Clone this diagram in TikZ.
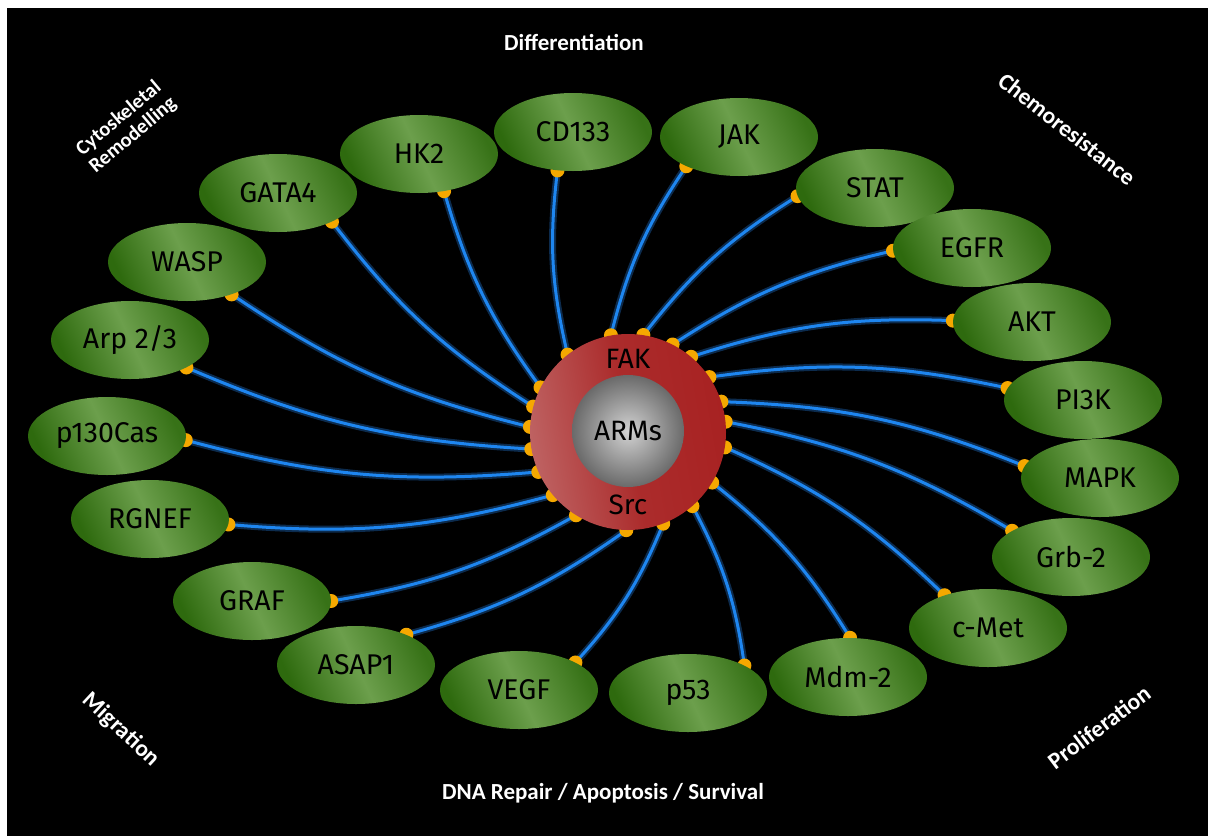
\documentclass[tikz,border=0pt]{standalone}
\usepackage{fontspec}
\setmainfont{Carlito}
\newfontfamily\dinfont{Fira Sans}
\usetikzlibrary{shapes.geometric}
\pgfdeclarelayer{bgl}
\pgfdeclarelayer{conl}
\pgfsetlayers{bgl,conl,main}
\definecolor{linkblue}{HTML}{1E86F0}
\definecolor{glowblue}{HTML}{123E6E}
\definecolor{dotorange}{HTML}{F5A800}
\definecolor{gdark}{HTML}{2E6A0E}
\definecolor{glight}{HTML}{6C9F4C}
\definecolor{ringlight}{HTML}{BE6262}
\definecolor{ringdark}{HTML}{A82222}
\definecolor{greylight}{HTML}{D2D2D2}
\definecolor{greydark}{HTML}{6A6A6A}
\begin{document}
\begin{tikzpicture}[x=1pt,y=1pt,
  ell/.style={ellipse, minimum width=158pt, minimum height=78pt, inner sep=0pt,
    left color=gdark, right color=gdark!85!glight, middle color=glight, shading angle=115,
    text=black, font=\dinfont\fontsize{28.5}{30}\selectfont},
  link/.style={draw=linkblue, line width=3pt,
    preaction={draw=glowblue, line width=7pt, opacity=0.7}},
  dotc/.style={fill=dotorange},
  cat/.style={text=white, font=\bfseries\fontsize{23}{26}\selectfont, inner sep=0pt},
  corner/.style={cat, font=\bfseries\fontsize{23.5}{26}\selectfont},
  ringlab/.style={text=black, font=\dinfont\fontsize{28}{30}\selectfont, inner sep=0pt}
]
\useasboundingbox (0,0) rectangle (1208,-836);
\begin{pgfonlayer}{bgl}
  \fill[white] (0,0) rectangle (1208,-836);
  \fill[black] (7,-8) rectangle (1208,-836);
\end{pgfonlayer}

% centre
\node[circle, minimum size=196pt, inner sep=0pt, left color=ringlight, right color=ringdark, middle color=ringdark!85!ringlight, shading angle=100] (ring) at (628,-432) {};
\node[circle, minimum size=112pt, inner sep=0pt, inner color=greylight, outer color=greydark, ringlab] (core) at (628,-431) {ARMs};
\node[ringlab] (fak) at (628,-359) {FAK};
\node[ringlab] (src) at (628,-505) {Src};

% ellipses
\node[ell] (gata) at (278,-193) {GATA4};
\node[ell] (hk) at (419,-154) {HK2};
\node[ell] (cd) at (573,-132) {CD133};
\node[ell] (jak) at (739,-137) {JAK};
\node[ell] (stat) at (875,-188) {STAT};
\node[ell] (egfr) at (972,-248) {EGFR};
\node[ell] (akt) at (1032,-322) {AKT};
\node[ell] (pik) at (1083,-400) {PI3K};
\node[ell] (mapk) at (1100,-478) {MAPK};
\node[ell] (grb) at (1071,-557) {Grb-2};
\node[ell] (cmet) at (988,-628) {c-Met};
\node[ell] (mdm) at (848,-677) {Mdm-2};
\node[ell] (p53) at (688,-693) {p53};
\node[ell] (vegf) at (519,-690) {VEGF};
\node[ell] (asap) at (356,-665) {ASAP1};
\node[ell] (graf) at (252,-601) {GRAF};
\node[ell] (rgnef) at (150,-519) {RGNEF};
\node[ell] (cas) at (107,-436) {p130Cas};
\node[ell] (arp) at (130,-340) {Arp 2/3};
\node[ell] (wasp) at (187,-262) {WASP};

% connectors
\begin{pgfonlayer}{conl}
\foreach \n/\ra/\ea in {cd/128/248, jak/100/209, stat/81/186, egfr/63/182, akt/50/179,
    pik/34/171, mapk/18/171, grb/6/156, cmet/351/143, mdm/329/87, p53/311/26,
    vegf/291/26, asap/269/31, graf/238/0, rgnef/220/356, cas/204/357, arp/190/334,
    wasp/177/324, gata/165/332, hk/153/304} {
  \draw[link] (ring.\ra) to[bend left=10] (\n.\ea);
  \fill[dotc] (ring.\ra) circle (7);
  \fill[dotc] (\n.\ea) circle (7);
}
\end{pgfonlayer}

% category labels
\node[cat] (diff) at (574,-42) {Differentiation};
\node[cat] (dna) at (603,-793) {DNA Repair / Apoptosis / Survival};
\node[cat, font=\bfseries\fontsize{20.5}{22}\selectfont, align=center, rotate=40] (cyto) at (126,-127) {Cytoskeletal\\Remodelling};
\node[corner, rotate=-38] (chemo) at (1067,-129) {Chemoresistance};
\node[corner, rotate=-43] (migr) at (121,-730) {Migration};
\node[corner, rotate=37] (prol) at (1099,-727) {Proliferation};
\end{tikzpicture}
\end{document}
